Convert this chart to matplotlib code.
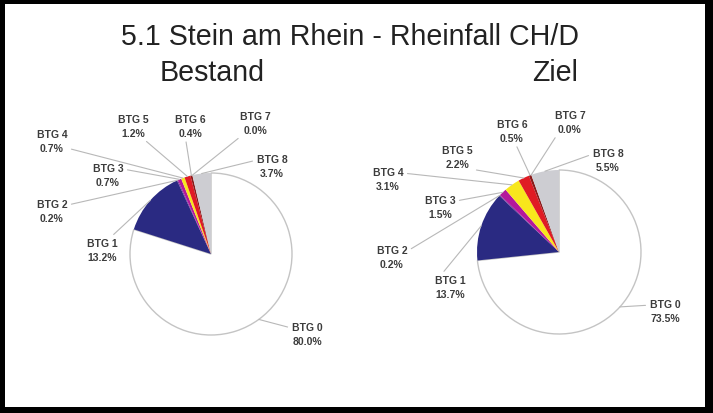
import matplotlib
matplotlib.use('Agg')
import matplotlib.pyplot as plt
import numpy as np
from matplotlib.patches import Rectangle

plt.rcParams['font.family'] = ['Liberation Sans', 'DejaVu Sans']

# data
categories = ['BTG 0', 'BTG 1', 'BTG 2', 'BTG 3', 'BTG 4', 'BTG 5', 'BTG 6', 'BTG 7', 'BTG 8']
bestand = [80.0, 13.2, 0.2, 0.7, 0.7, 1.2, 0.4, 0.0, 3.7]
ziel = [73.5, 13.7, 0.2, 1.5, 3.1, 2.2, 0.5, 0.0, 5.5]
colors = ['#ffffff', '#2a2a82', '#6a2a96', '#b4189b', '#f8e71c',
          '#e01b24', '#8b1a1a', '#33cccc', '#cdcdd2']

W, H = 713, 414
fig = plt.figure(figsize=(W / 100, H / 100), dpi=100)
fig.patch.set_facecolor('white')


def px_axes(x0, y0, x1, y1):
    # pixel box (from top-left) -> axes
    return fig.add_axes([x0 / W, 1 - y1 / H, (x1 - x0) / W, (y1 - y0) / H])


# label positions in pixels (text centre) and where the leader line leaves the text
lab_left = {
    'BTG 0': (307, 335, (0.0, 0.75)),
    'BTG 1': (102, 251, (0.75, 1.0)),
    'BTG 2': (52, 212, (1.0, 0.75)),
    'BTG 3': (108, 176, (1.0, 0.75)),
    'BTG 4': (52, 142, (1.0, 0.2)),
    'BTG 5': (133, 127, (0.8, 0.0)),
    'BTG 6': (190, 127, (0.35, 0.0)),
    'BTG 7': (255, 124, (0.1, 0.0)),
    'BTG 8': (272, 167, (0.0, 0.75)),
}
lab_right = {
    'BTG 0': (665, 312, (0.0, 0.75)),
    'BTG 1': (450, 288, (0.2, 1.0)),
    'BTG 2': (392, 258, (1.0, 0.75)),
    'BTG 3': (440, 208, (1.0, 0.75)),
    'BTG 4': (388, 180, (1.0, 0.75)),
    'BTG 5': (457, 158, (0.9, 0.0)),
    'BTG 6': (512, 132, (0.6, 0.0)),
    'BTG 7': (570, 123, (0.1, 0.0)),
    'BTG 8': (608, 161, (0.0, 0.75)),
}


def draw_pie(values, box, centre, r, labels):
    x0, y0, x1, y1 = box
    cx, cy = centre
    ax = px_axes(x0, y0, x1, y1)
    ax.set_facecolor('#f6f6f6')
    wedges, _ = ax.pie(values, colors=colors, startangle=90, counterclock=False,
                       wedgeprops=dict(linewidth=0))
    wedges[0].set_edgecolor('#c4c4c4')
    wedges[0].set_linewidth(1.0)
    ax.set_xlim((x0 - cx) / r, (x1 - cx) / r)
    ax.set_ylim((cy - y1) / r, (cy - y0) / r)
    ax.set_aspect('auto')
    ax.axis('on')
    ax.set_xticks([])
    ax.set_yticks([])
    for s in ax.spines.values():
        s.set_visible(False)

    for name, val, w in zip(categories, values, wedges):
        lx, ly, rel = labels[name]
        mid = np.deg2rad((w.theta1 + w.theta2) / 2)
        ax.annotate('%s\n%.1f%%' % (name, val),
                    xy=(np.cos(mid), np.sin(mid)),
                    xytext=((lx - cx) / r, (cy - ly) / r),
                    ha='center', va='center', fontsize=7.5, fontweight='bold',
                    color='#3c3c3c', linespacing=1.45,
                    arrowprops=dict(arrowstyle='-', color='#b8b8b8', lw=0.8,
                                    shrinkA=1, shrinkB=0, relpos=rel))
    return ax


draw_pie(bestand, (20, 103, 342, 408), (211, 255), 81, lab_left)
draw_pie(ziel, (368, 103, 705, 408), (559, 253), 82, lab_right)

fig.text(350 / W, 1 - 37 / H, '5.1 Stein am Rhein - Rheinfall CH/D',
         ha='center', va='center', fontsize=20.6, color='#222222')
fig.text(212 / W, 1 - 73 / H, 'Bestand', ha='center', va='center',
         fontsize=20.6, color='#222222')
fig.text(555 / W, 1 - 73 / H, 'Ziel', ha='center', va='center',
         fontsize=20.6, color='#222222')

# thick black frame
for (x, y, w, h) in [(0, 0, W, 5), (0, H - 6, W, 6), (0, 0, 5, H), (W - 8, 0, 8, H)]:
    fig.add_artist(Rectangle((x / W, 1 - (y + h) / H), w / W, h / H,
                             transform=fig.transFigure, color='black', lw=0))

fig.savefig('out.png', dpi=100)
